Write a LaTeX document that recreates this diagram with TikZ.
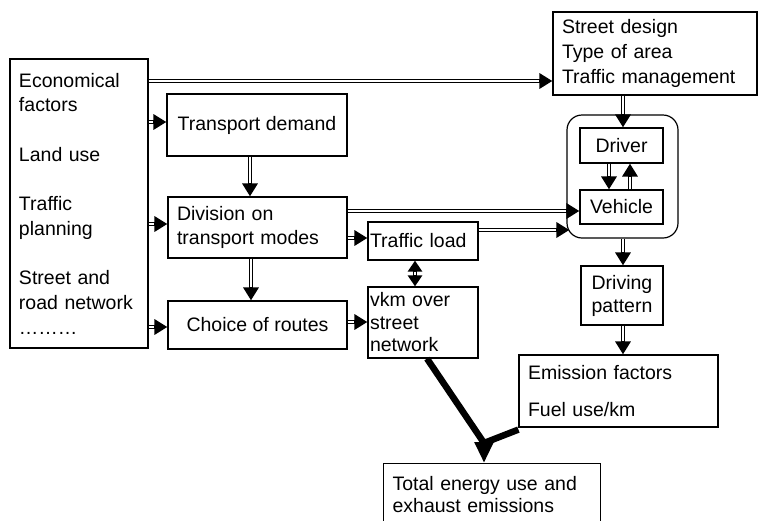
\documentclass[tikz,border=0pt]{standalone}
\usepackage{fontspec}
\setmainfont{Liberation Sans}
\usetikzlibrary{arrows.meta,calc}
\tikzset{
  bigtip/.tip={Triangle[length=13pt,width=15pt]},
  midtip/.tip={Triangle[length=11pt,width=14pt]},
  hugetip/.tip={Triangle[length=21pt,width=18pt]}
}
\begin{document}
\begin{tikzpicture}[x=1pt,y=-1pt,
  box/.style={draw, line width=1.2pt, inner sep=0pt, font=\fontsize{19.5}{24.7}\selectfont},
  dbl/.style={line width=4.2pt, -bigtip,
    postaction={draw=white, line width=1.6pt, -, shorten >=13pt}},
  dblboth/.style={line width=4.2pt, midtip-midtip,
    postaction={draw=white, line width=1.6pt, -, shorten >=11pt, shorten <=11pt}},
  thick line/.style={line width=6.5pt, line join=round, line cap=butt},
  thick arrow/.style={line width=6.5pt, -hugetip}]
\useasboundingbox (0,0) rectangle (758,520);
\clip (0,0) rectangle (758,520);

% boxes
\node[box, minimum width=138pt, minimum height=289pt, text width=120pt, align=left] (lb) at (79,203.5)
  {Economical\\factors\\[24.7pt]Land use\\[24.7pt]Traffic\\planning\\[24.7pt]Street and\\road network\\………};
\node[box, minimum width=180pt, minimum height=62pt] (td) at (257,125) {Transport demand};
\node[box, minimum width=179pt, minimum height=61pt, text width=161pt, align=left] (div) at (257.5,227.5)
  {Division on\\transport modes};
\node[box, minimum width=179pt, minimum height=48pt] (ch) at (257.5,325) {Choice of routes};
\node[box, minimum width=110pt, minimum height=38pt, text width=106pt, align=left] (tl) at (423,241) {Traffic load};
\node[box, minimum width=110pt, minimum height=71pt, text width=106pt, align=left,
  font=\fontsize{19.5}{22.5}\selectfont] (vkm) at (423,322.5) {vkm over\\street\\network};
\node[box, minimum width=204pt, minimum height=83pt, text width=186pt, align=left,
  font=\fontsize{19.5}{25}\selectfont] (sd) at (655,53.5) {Street design\\Type of area\\Traffic management};
\node[draw, line width=1.2pt, rounded corners=15pt, minimum width=111pt, minimum height=123pt] (rb) at (622.5,176.5) {};
\node[box, minimum width=83pt, minimum height=35pt] (dr) at (621.5,145.5) {Driver};
\node[box, minimum width=83pt, minimum height=34pt] (veh) at (621.5,207) {Vehicle};
\node[box, minimum width=82pt, minimum height=59pt, align=center, font=\fontsize{19.5}{23}\selectfont] (dp) at (622,295.5)
  {Driving\\pattern};
\node[box, minimum width=199pt, minimum height=72pt, text width=181pt, align=left] (ef) at (618.5,391)
  {Emission factors\\[13pt]Fuel use/km};
\node[box, anchor=north west, minimum width=217pt, minimum height=62pt, text width=199pt, align=left,
  font=\fontsize{19.5}{22}\selectfont] (tot) at (383,463)
  {Total energy use and\\exhaust emissions};

\coordinate (J) at (484,443);

% connectors
\draw[dbl] (lb.east |- 0,81) -- (sd.west |- 0,81);
\draw[dbl] (lb.east |- 0,122) -- (td.west |- 0,122);
\draw[dbl] (lb.east |- 0,224) -- (div.west |- 0,224);
\draw[dbl] (lb.east |- 0,327) -- (ch.west |- 0,327);
\draw[dbl] (td.south -| 250,0) -- (div.north -| 250,0);
\draw[dbl] (div.south -| 251,0) -- (ch.north -| 251,0);
\draw[dbl] (div.east |- 0,211) -- (veh.west |- 0,211);
\draw[dbl] (div.east |- 0,238) -- (tl.west |- 0,238);
\draw[dbl] (tl.east |- 0,230) -- ([xshift=3pt]rb.west |- 0,230);
\draw[dblboth] (tl.south -| 415,0) -- (vkm.north -| 415,0);
\draw[dbl] (ch.east |- 0,322) -- (vkm.west |- 0,322);
\draw[dbl] (sd.south -| 623,0) -- (dr.north -| 623,0);
\draw[dbl] (dr.south -| 609,0) -- (veh.north -| 609,0);
\draw[dbl] (veh.north -| 630,0) -- (dr.south -| 630,0);
\draw[dbl] (rb.south -| 623,0) -- (dp.north -| 623,0);
\draw[dbl] (dp.south -| 623,0) -- (ef.north -| 623,0);

% thick lines
\draw[thick line] (vkm.south -| 427,0) -- (J) -- ([yshift=-2pt]ef.south west);
\draw[thick arrow] (J) -- (J |- tot.north);
\end{tikzpicture}
\end{document}
